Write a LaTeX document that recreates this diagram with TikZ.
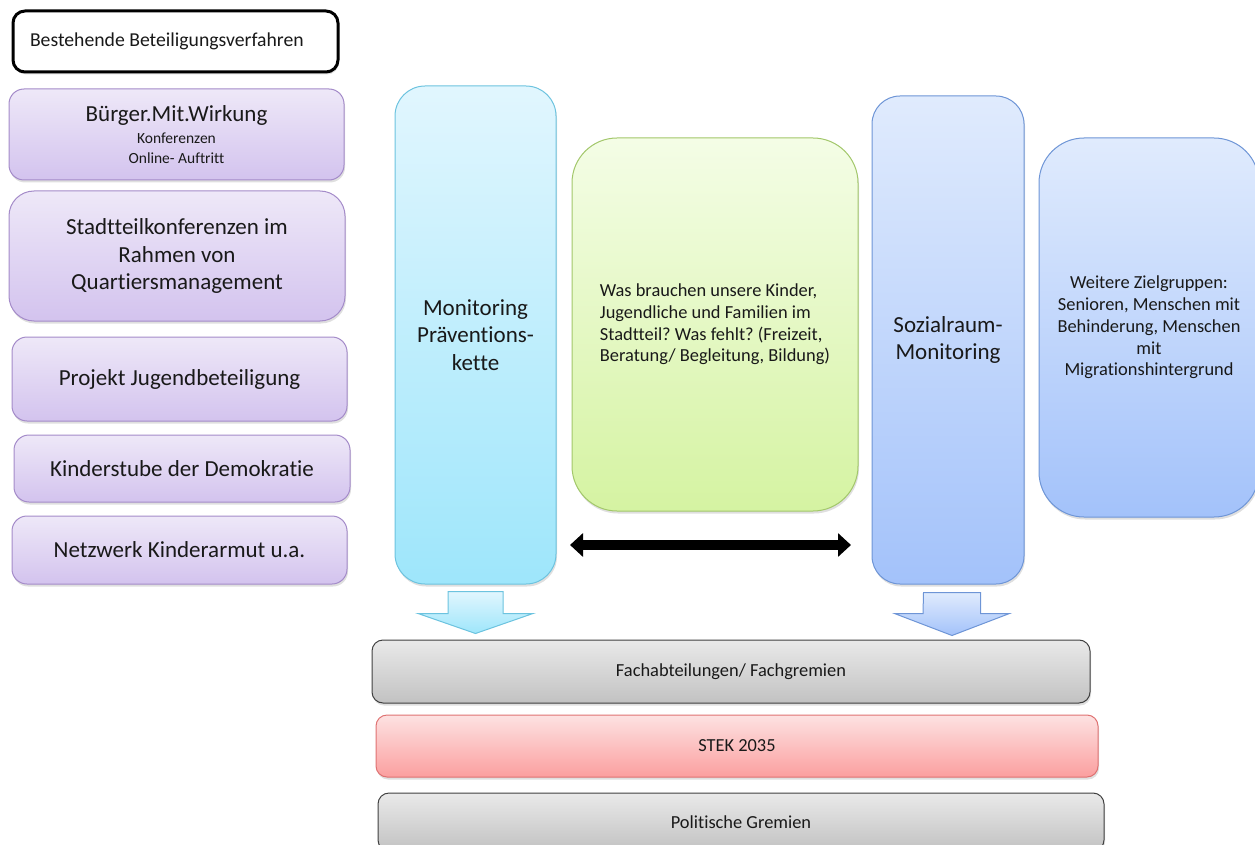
\documentclass[tikz,border=0pt]{standalone}
\usepackage{fontspec}
\setmainfont{Carlito}[Ligatures={NoCommon}]
\usetikzlibrary{arrows.meta,calc,shadows}
\frenchspacing

\definecolor{lilaoben}{HTML}{EEE8F8}
\definecolor{lilaunten}{HTML}{D3C3EE}
\definecolor{lilarand}{HTML}{A48BC9}
\definecolor{cyanoben}{HTML}{E1F6FE}
\definecolor{cyanunten}{HTML}{9EE6FB}
\definecolor{cyanrand}{HTML}{6CC3DF}
\definecolor{gruenoben}{HTML}{F4FDE6}
\definecolor{gruenunten}{HTML}{D5F3A2}
\definecolor{gruenrand}{HTML}{A2C76A}
\definecolor{blauoben}{HTML}{E0EBFD}
\definecolor{blauunten}{HTML}{A3C2FA}
\definecolor{blaurand}{HTML}{6E95D6}
\definecolor{grauoben}{HTML}{E9E9E9}
\definecolor{grauunten}{HTML}{C2C2C2}
\definecolor{rosaoben}{HTML}{FDE2E2}
\definecolor{rosaunten}{HTML}{FB9F9F}
\definecolor{rosarand}{HTML}{DF7272}

\newcommand{\grossschrift}{\fontsize{23}{27.7}\selectfont}
\newcommand{\kleinschrift}{\fontsize{18.4}{21.7}\selectfont}

\begin{document}
\begin{tikzpicture}[x=1pt,y=-1pt,
	box/.style={draw, line width=1pt, align=center, inner sep=0pt, text=black!90,
		drop shadow={shadow xshift=1pt,shadow yshift=-2.5pt,opacity=0.25}},
	lila/.style={box, rounded corners=15pt, draw=lilarand, top color=lilaoben, bottom color=lilaunten, font=\grossschrift},
	saeule/.style={box, rounded corners=30pt, font=\grossschrift},
	band/.style={box, rounded corners=11pt, font=\kleinschrift}]

		\useasboundingbox (0,0) rectangle (1255,845);

		\node[box, rounded corners=12pt, line width=3pt, draw=black, fill=white, font=\fontsize{19.7}{24}\selectfont,
			minimum height=61pt, text width=291pt, inner xsep=17pt, align=flush left] (bestehend) at (175.5,41.5) {Bestehende Beteiligungsverfahren};

		\node[lila, minimum width=335pt, minimum height=91pt] (buerger) at (176.5,134.5)
			{Bürger.Mit.Wirkung\\[-5.5pt]{\fontsize{15.5}{19}\selectfont Konferenzen}\\[-8.5pt]{\fontsize{15.5}{19}\selectfont Online- Auftritt}};
		\node[lila, rounded corners=25pt, minimum width=336pt, minimum height=130pt] (stadtteil) at (177,256)
			{Stadtteilkonferenzen im\\Rahmen von\\Quartiersmanagement};
		\node[lila, minimum width=335pt, minimum height=84pt] (jugend) at (179.5,379) {Projekt Jugendbeteiligung};
		\node[lila, minimum width=336pt, minimum height=67pt] (kinderstube) at (182,468.5) {Kinderstube der Demokratie};
		\node[lila, minimum width=335pt, minimum height=68pt] (netzwerk) at (179.5,550) {Netzwerk Kinderarmut u.a.};

		\node[saeule, draw=cyanrand, top color=cyanoben, bottom color=cyanunten,
			minimum width=161pt, minimum height=498pt] (monitoring) at (475.5,335) {Monitoring\\Präventions-\\kette};
		\node[saeule, rounded corners=45pt, draw=gruenrand, top color=gruenoben, bottom color=gruenunten, font=\kleinschrift,
			minimum width=286pt, minimum height=373pt, align=left] (bedarf) at (715,324.5)
			{Was brauchen unsere Kinder,\\Jugendliche und Familien im\\Stadtteil? Was fehlt? (Freizeit,\\Beratung/ Begleitung, Bildung)};
		\node[saeule, rounded corners=28pt, draw=blaurand, top color=blauoben, bottom color=blauunten,
			minimum width=152pt, minimum height=488pt] (sozialraum) at (948,340) {Sozialraum-\\Monitoring};
		\node[saeule, rounded corners=45pt, draw=blaurand, top color=blauoben, bottom color=blauunten, font=\kleinschrift,
			minimum width=220pt, minimum height=379pt] (zielgruppen) at (1149,327.5)
			{Weitere Zielgruppen:\\Senioren, Menschen mit\\Behinderung, Menschen\\mit\\Migrationshintergrund};

		\coordinate (links) at (570,545);
		\coordinate (rechts) at (851,545);
		\draw[line width=10pt, {Triangle[length=13pt,width=23pt]}-{Triangle[length=13pt,width=23pt]}] (links) -- (rechts);

		\node[band, draw=black!75, top color=grauoben, bottom color=grauunten,
			minimum width=718pt, minimum height=63pt] (fach) at (731,671.5) {Fachabteilungen/ Fachgremien};
		\node[band, draw=rosarand, top color=rosaoben, bottom color=rosaunten,
			minimum width=722pt, minimum height=62pt] (stek) at (737,746) {STEK 2035};
		\node[band, draw=black!75, top color=grauoben, bottom color=grauunten,
			minimum width=726pt, minimum height=58pt] (politik) at (741,822) {Politische Gremien};

		\path[draw=cyanrand, line width=1pt, top color=cyanoben, bottom color=cyanunten]
			($(monitoring.south)+(-27.5,7)$) -- ++(55,0) -- ++(0,22) -- ++(30,0)
			-- ($(monitoring.south)+(0,49)$) -- ++(-57.5,-20) -- ++(30,0) -- cycle;
		\path[draw=blaurand, line width=1pt, top color=blauoben, bottom color=blauunten]
			($(sozialraum.south)+(-24.5,8)$) -- ++(57,0) -- ++(0,21) -- ++(29,0)
			-- ($(sozialraum.south)+(4,51)$) -- ++(-57.5,-22) -- ++(28.5,0) -- cycle;
	\end{tikzpicture}
\end{document}
